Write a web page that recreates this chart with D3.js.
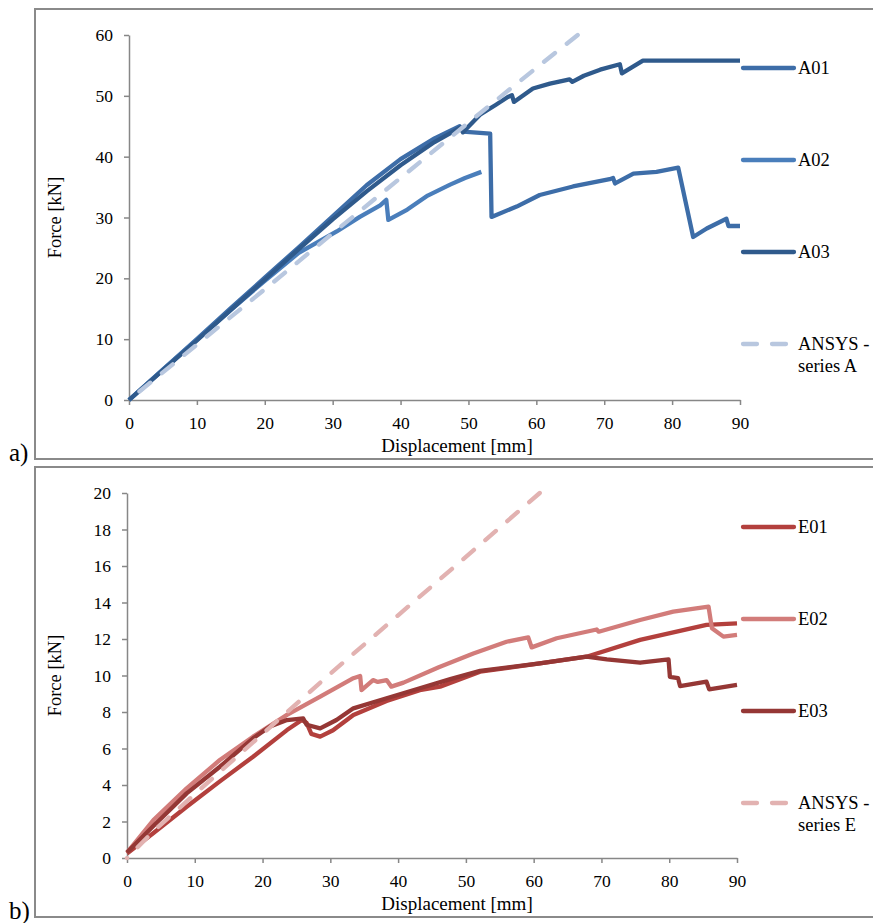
<!DOCTYPE html>
<html>
<head>
<meta charset="utf-8">
<script src="https://cdn.jsdelivr.net/npm/d3@7"></script>
<style>
  html, body { margin: 0; padding: 0; background: #ffffff; }
  svg { display: block; }
  text { font-family: "Liberation Serif", "Times New Roman", serif; fill: #000; }
</style>
</head>
<body>
<svg id="chart" width="873" height="923"></svg>
<script>
// ---------- DATA ----------
const xTicks = [0, 10, 20, 30, 40, 50, 60, 70, 80, 90];
const yTicksA = [0, 10, 20, 30, 40, 50, 60];
const yTicksE = [0, 2, 4, 6, 8, 10, 12, 14, 16, 18, 20];

const seriesNamesA = ["A01", "A02", "A03", "ANSYS - series A"];
const seriesNamesE = ["E01", "E02", "E03", "ANSYS - series E"];

// [displacement mm, force kN]
const a01 = [[0,0],[5,5],[10,10],[15,15.1],[20,20.1],[25,25.1],[30,30.2],[35,35.3],[40,39.6],[45,43.0],[48.7,45.0],[49.2,44.1],[53.2,43.8],[53.4,30.1],[57.1,31.8],[60.5,33.7],[65.4,35.1],[70.8,36.3],[71.3,36.5],[71.6,35.6],[74.3,37.2],[77.7,37.5],[80.9,38.2],[83.1,26.8],[85.1,28.2],[88.0,29.8],[88.3,28.6],[90,28.6]];
const a02 = [[0,0],[5,5],[10,9.9],[15,14.8],[20,19.6],[25,24.2],[30.6,27.7],[34,30.1],[37,32.0],[37.9,32.9],[38.2,29.6],[41,31.3],[44,33.6],[47.3,35.4],[49.5,36.5],[51.9,37.5]];
const a03 = [[0,0],[5,4.9],[10,9.8],[15,14.8],[20,19.8],[25,24.8],[30,29.7],[35,34.3],[40,38.6],[45,42.4],[48,44.3],[48.8,44.8],[49.2,44.0],[51.7,46.9],[54,48.5],[55.8,49.8],[56.4,50.1],[56.7,49.0],[59.5,51.2],[62,52.0],[64.9,52.7],[65.3,52.3],[67,53.3],[69.4,54.3],[72.3,55.2],[72.6,53.7],[75.7,55.8],[90,55.8]];
const ansysA = [[0,0],[10,9.1],[20,18.2],[30,27.4],[40,36.5],[50,45.6],[60,54.6],[66.1,60]];

const e01 = [[0,0.25],[4,1.4],[8.8,2.81],[13.7,4.2],[18.6,5.55],[23.6,7.01],[25.8,7.56],[26.5,7.4],[27.2,6.8],[28.5,6.65],[30.4,7.0],[33.4,7.84],[38.3,8.6],[43.2,9.2],[46.2,9.39],[52.1,10.21],[60.9,10.66],[67.8,11.03],[75.7,11.95],[85.5,12.77],[90,12.86]];
const e02 = [[0,0.3],[3.9,2.08],[8.8,3.82],[13.7,5.37],[18.6,6.65],[23.6,7.84],[28.5,8.84],[33.4,9.85],[34.4,9.97],[34.6,9.2],[36.3,9.75],[37,9.65],[38.3,9.75],[39.0,9.39],[40.8,9.61],[46,10.45],[51.1,11.2],[56.0,11.85],[59.2,12.09],[59.7,11.54],[63.4,12.04],[69.3,12.52],[69.6,12.4],[75.7,13.04],[80.6,13.5],[85.8,13.77],[86.3,12.59],[88.0,12.13],[90,12.22]];
const e03 = [[0,0.3],[4,1.8],[8.8,3.54],[13.7,5.0],[18.6,6.56],[21.1,7.2],[23.6,7.56],[26.0,7.65],[26.5,7.3],[28.5,7.1],[30.9,7.56],[33.4,8.2],[38.3,8.75],[43.2,9.3],[47.7,9.8],[52.1,10.25],[60.9,10.66],[67.8,11.03],[70.8,10.88],[75.7,10.7],[79.9,10.88],[80.1,9.93],[81.3,9.85],[81.6,9.42],[85.5,9.66],[85.9,9.24],[90,9.48]];
const ansysE = [[0,0],[4,1.5],[10,3.5],[20,6.8],[30,10.1],[40,13.3],[50,16.5],[60.9,20]];

// ---------- DRAW ----------
const svg = d3.select("#chart");
const axisColor = "#878787";
const DASH = 14, GAP = 15;

function panel(cfg) {
  const g = svg.append("g");
  g.append("rect").attr("x", 35).attr("y", cfg.frameTop).attr("width", 860).attr("height", cfg.frameH)
    .attr("fill", "none").attr("stroke", "#8a8a8a").attr("stroke-width", 2);

  const x = d3.scaleLinear().domain([0, 90]).range([cfg.x0, cfg.x1]);
  const y = d3.scaleLinear().domain([0, cfg.yMax]).range([cfg.y0, cfg.y1]);

  const yAxis = g.append("g").attr("transform", `translate(${cfg.x0},0)`)
    .call(d3.axisLeft(y).tickValues(cfg.yTicks).tickSize(5).tickPadding(11).tickSizeOuter(0));
  const xAxis = g.append("g").attr("transform", `translate(0,${cfg.y0})`)
    .call(d3.axisBottom(x).tickValues(xTicks).tickSize(5).tickPadding(12).tickSizeOuter(0));
  [xAxis, yAxis].forEach(a => {
    a.select(".domain").attr("stroke", axisColor).attr("stroke-width", 1.5);
    a.selectAll(".tick line").attr("stroke", axisColor).attr("stroke-width", 1.5);
    a.selectAll(".tick text").attr("font-family", "Liberation Serif").attr("font-size", 17.5).attr("fill", "#000");
  });

  const line = d3.line().x(d => x(d[0])).y(d => y(d[1]));
  cfg.series.forEach((s) => {
    const p = g.append("path").datum(s.data).attr("d", line)
      .attr("fill", "none").attr("stroke", s.color).attr("stroke-width", 4.3)
      .attr("stroke-linejoin", "round").attr("stroke-linecap", s.dash ? "round" : "butt");
    if (s.dash) {
      const L = p.node().getTotalLength();
      const P = DASH + GAP;
      const off = (((DASH - L) % P) + P) % P;
      p.attr("stroke-dasharray", `${DASH},${GAP}`).attr("stroke-dashoffset", off);
    }
  });

  cfg.series.forEach((s, i) => {
    const ly = cfg.legendY[i];
    g.append("line").attr("x1", 743).attr("x2", 794).attr("y1", ly).attr("y2", ly)
      .attr("stroke", s.color).attr("stroke-width", 4.3)
      .attr("stroke-linecap", "round")
      .attr("stroke-dasharray", s.dash ? `${DASH},${GAP}` : null);
    const parts = s.name.split(" - ");
    const t = g.append("text").attr("x", 798).attr("y", ly + 6).attr("font-size", 18.5);
    if (parts.length > 1) {
      t.append("tspan").attr("x", 798).text(parts[0] + " -");
      t.append("tspan").attr("x", 798).attr("dy", 22).text(parts[1]);
    } else {
      t.text(s.name);
    }
  });

  g.append("text").attr("x", 457).attr("y", cfg.xTitleY).attr("text-anchor", "middle")
    .attr("font-size", 19).text("Displacement [mm]");
  g.append("text").attr("transform", `translate(61,${(cfg.y0 + cfg.y1) / 2}) rotate(-90)`)
    .attr("text-anchor", "middle").attr("font-size", 18.5).text("Force [kN]");
  g.append("text").attr("x", 9).attr("y", cfg.labelY).attr("font-size", 25).text(cfg.label);
}

panel({
  frameTop: 9, frameH: 450, x0: 129, x1: 740, y0: 400, y1: 35, yMax: 60, yTicks: yTicksA,
  xTitleY: 452, labelY: 461, label: "a)",
  legendY: [68, 160, 252, 344],
  series: [
    { name: seriesNamesA[0], data: a01, color: "#3D6DA8" },
    { name: seriesNamesA[1], data: a02, color: "#4A7EBB" },
    { name: seriesNamesA[2], data: a03, color: "#2F5A8C" },
    { name: seriesNamesA[3], data: ansysA, color: "#B8C7DF", dash: true }
  ]
});

panel({
  frameTop: 467, frameH: 450, x0: 127, x1: 737, y0: 858, y1: 493, yMax: 20, yTicks: yTicksE,
  xTitleY: 910, labelY: 919, label: "b)",
  legendY: [527, 619, 711, 803],
  series: [
    { name: seriesNamesE[0], data: e01, color: "#B3403D" },
    { name: seriesNamesE[1], data: e02, color: "#D27C7A" },
    { name: seriesNamesE[2], data: e03, color: "#953735" },
    { name: seriesNamesE[3], data: ansysE, color: "#E2B2B1", dash: true }
  ]
});
</script>
</body>
</html>
